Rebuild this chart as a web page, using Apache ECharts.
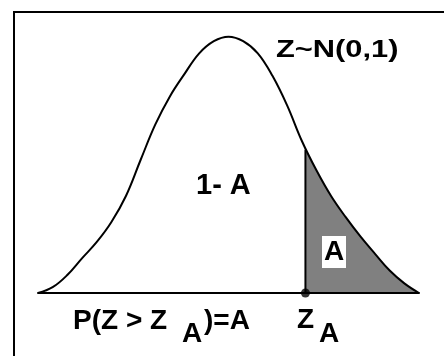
<!DOCTYPE html>
<html>
<head>
<meta charset="utf-8">
<script src="https://cdn.jsdelivr.net/npm/echarts@6/dist/echarts.min.js"></script>
<style>
html,body{margin:0;padding:0;background:#fff;}
#chart{width:444px;height:356px;}
</style>
</head>
<body>
<div id="chart"></div>
<script>
// z positions (standard-normal scale) and curve heights
var zValues = [-2.6,-2.4,-2.2,-2.0,-1.8,-1.6,-1.4,-1.2,-1.0,-0.8,-0.6,-0.4,-0.2,0,
               0.2,0.4,0.6,0.8,1.0,1.2,1.4,1.6,1.8,2.0,2.2,2.4,2.6];
var density = [0.000,0.009,0.028,0.054,0.079,0.110,0.151,0.207,0.262,0.306,0.341,0.373,0.392,0.399,
               0.392,0.373,0.338,0.292,0.237,0.191,0.151,0.118,0.088,0.061,0.035,0.015,0.000];
// critical value Z_A and the curve height there
var zA = 1.05;
var densityAtZA = 0.223;
// text labels
var distLabel = 'Z~N(0,1)';
var bodyLabel = '1- A';
var tailLabel = 'A';
var probLabelParts = ['P(Z > Z', 'A', ')=A'];
var critLabelParts = ['Z', 'A'];

var curve = zValues.map(function (z, i) { return [z, density[i]]; });
var tail = [[zA, densityAtZA]].concat(curve.filter(function (p) { return p[0] > zA; }));

var chart = echarts.init(document.getElementById('chart'), null, {renderer: 'canvas'});
var FONT = '"Liberation Sans", Arial, sans-serif';
function txt(text, x, y, size, extra) {
  var o = {
    type: 'text', x: x, y: y, z: 20,
    style: {text: text, fill: '#000', font: 'bold ' + size + 'px ' + FONT,
            textAlign: 'left', textVerticalAlign: 'middle'}
  };
  if (extra) { for (var k in extra) o[k] = extra[k]; }
  return o;
}
chart.setOption({
  animation: false,
  backgroundColor: '#fff',
  grid: {left: 38, right: 25, top: 36, bottom: 63},
  xAxis: {
    type: 'value', min: -2.6, max: 2.6, z: 10,
    axisLine: {show: true, onZero: false, lineStyle: {color: '#000', width: 2}},
    axisTick: {show: false}, axisLabel: {show: false}, splitLine: {show: false}
  },
  yAxis: {
    type: 'value', min: 0, max: 0.4, show: false, splitLine: {show: false}
  },
  series: [
    {
      name: 'tail', type: 'line', data: tail, smooth: 0.4,
      symbol: 'none', lineStyle: {width: 0, color: '#808080'},
      areaStyle: {color: '#808080', opacity: 1, origin: 'start'}, z: 1
    },
    {
      name: 'curve', type: 'line', data: curve, smooth: 0.4,
      symbol: 'none', lineStyle: {color: '#000', width: 2}, z: 5
    },
    {
      name: 'zA line', type: 'line', data: [[zA, 0], [zA, densityAtZA]],
      symbol: 'none', lineStyle: {color: '#000', width: 2}, z: 5
    },
    {
      name: 'zA point', type: 'scatter', data: [[zA, 0]], symbolSize: 9,
      itemStyle: {color: '#000'}, z: 12
    }
  ],
  graphic: [
    {type: 'rect', shape: {x: 14, y: 12, width: 600, height: 600},
     style: {fill: 'none', stroke: '#000', lineWidth: 2}, z: 20},
    txt(distLabel, 276, 51, 23, {scaleX: 1.34}),
    txt(bodyLabel, 196, 186, 29),
    {type: 'rect', shape: {x: 322, y: 236, width: 24, height: 32},
     style: {fill: '#fff'}, z: 15},
    txt(tailLabel, 324, 252, 28),
    txt(probLabelParts[0], 73, 321, 28),
    txt(probLabelParts[1], 182, 334, 28),
    txt(probLabelParts[2], 204, 321, 28),
    txt(critLabelParts[0], 297, 320, 28),
    txt(critLabelParts[1], 319, 334, 28)
  ]
});
</script>
</body>
</html>
